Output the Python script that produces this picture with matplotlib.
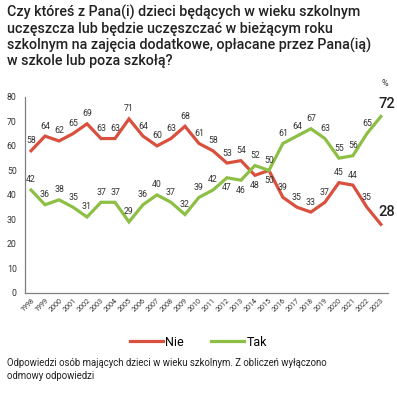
import numpy as np
import matplotlib
matplotlib.use('Agg')
import matplotlib.pyplot as plt

plt.rcParams['font.family'] = ['Roboto', 'DejaVu Sans']

lata = list(range(1998, 2024))
nie = [58, 64, 62, 65, 69, 63, 63, 71, 64, 60, 63, 68, 61, 58, 53, 54, 48, 50, 39, 35, 33, 37, 45, 44, 35, 28]
tak = [42, 36, 38, 35, 31, 37, 37, 29, 36, 40, 37, 32, 39, 42, 47, 46, 52, 50, 61, 64, 67, 63, 55, 56, 65, 72]
# lata, w ktorych etykieta idzie pod punkt
nie_pod = [2014, 2015]
tak_pod = [2012, 2013]

czerwony = '#d9503f'
zielony = '#8dbf45'

fig = plt.figure(figsize=(3.97, 3.97), dpi=100)
ax = fig.add_axes([0.063, 0.262, 0.914, 0.494])

ax.plot(lata, nie, color=czerwony, lw=2.3, solid_joinstyle='miter', label='Nie')
ax.plot(lata, tak, color=zielony, lw=2.3, solid_joinstyle='miter', label='Tak')

def etykiety(wart, pod):
    for r, v in zip(lata, wart):
        if r == lata[-1]:
            ax.annotate(str(v), (r, v), xytext=(-2, 4), textcoords='offset points',
                        ha='left', va='bottom', fontsize=10.5, fontweight='medium', color='#222222')
            continue
        if r in pod:
            ax.annotate(str(v), (r, v), xytext=(0, -4), textcoords='offset points',
                        ha='center', va='top', fontsize=6.3, color='#333333')
        else:
            ax.annotate(str(v), (r, v), xytext=(0, 4), textcoords='offset points',
                        ha='center', va='bottom', fontsize=6.3, color='#333333')

etykiety(nie, nie_pod)
etykiety(tak, tak_pod)

ax.set_xlim(1997.57, 2023.5)
ax.set_ylim(0, 80)
ax.set_yticks(range(0, 81, 10))
ax.set_xticks(lata)
ax.set_xticklabels([str(r) for r in lata], rotation=45, ha='right', rotation_mode='anchor',
                   fontsize=5.2)
ax.tick_params(axis='both', length=0, colors='#333333')
ax.tick_params(axis='y', labelsize=6.3, pad=6)
ax.tick_params(axis='x', pad=3)
for s in ['top', 'right']:
    ax.spines[s].set_visible(False)
for s in ['left', 'bottom']:
    ax.spines[s].set_color('#808080')
    ax.spines[s].set_linewidth(0.9)

fig.text(0.018, 0.988, 'Czy któreś z Pana(i) dzieci będących w wieku szkolnym\n'
         'uczęszcza lub będzie uczęszczać w bieżącym roku\n'
         'szkolnym na zajęcia dodatkowe, opłacane przez Pana(ią)\n'
         'w szkole lub poza szkołą?', ha='left', va='top', fontsize=10.3,
         fontweight='medium', color='#222222', linespacing=1.15)
fig.text(0.97, 0.79, '%', ha='center', va='center', fontsize=6.5, color='#333333')

fig.legend(loc='center', bbox_to_anchor=(0.5, 0.138), ncol=2, frameon=False,
           fontsize=9, handlelength=2.6, handletextpad=0.2, columnspacing=2.2)

fig.text(0.018, 0.097, 'Odpowiedzi osób mających dzieci w wieku szkolnym. Z obliczeń wyłączono\n'
         'odmowy odpowiedzi', ha='left', va='top', fontsize=6.9, color='#222222',
         linespacing=1.3)

fig.savefig('out.png', dpi=100)
